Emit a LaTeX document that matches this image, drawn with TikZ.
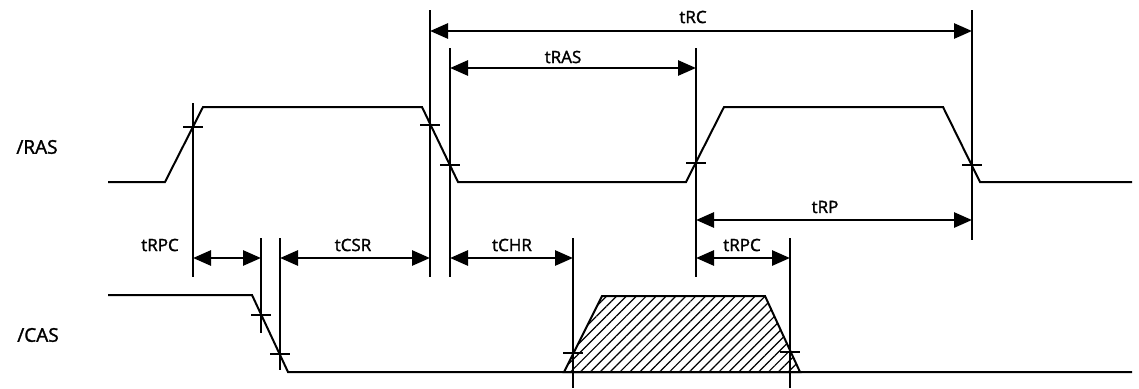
\documentclass[tikz,border=0pt]{standalone}
\usepackage{fontspec}
\setmainfont{Open Sans}
\newfontfamily\labfont{Open Sans}[FakeBold=1.6]
\usetikzlibrary{arrows.meta,patterns.meta}
\begin{document}
\begin{tikzpicture}[x=1pt,y=-1pt,
  sig/.style={line width=2pt, line join=miter},
  vline/.style={line width=1.4pt},
  tickmark/.style={line width=1.4pt},
  dimarrow/.style={line width=2.8pt, {Triangle[length=18pt,width=15pt]}-{Triangle[length=18pt,width=15pt]}},
  lab/.style={font=\labfont\fontsize{17}{19}\selectfont, inner sep=0pt},
  siglab/.style={font=\labfont\fontsize{19}{21}\selectfont, inner sep=0pt}]
\useasboundingbox (0,0) rectangle (1139,388);
\fill[white] (0,0) rectangle (1139,388);

% vertical reference lines
\coordinate (v1t) at (193,103); \coordinate (v1b) at (193,277);
\coordinate (v2t) at (430,10);  \coordinate (v2b) at (430,277);
\coordinate (v3t) at (450,48);  \coordinate (v3b) at (450,277);
\coordinate (v4t) at (696,48);  \coordinate (v4b) at (696,277);
\coordinate (v5t) at (972,10);  \coordinate (v5b) at (972,240);
\coordinate (v6t) at (261,238); \coordinate (v6b) at (261,333);
\coordinate (v7t) at (280,238); \coordinate (v7b) at (280,370);
\coordinate (v8t) at (573,238); \coordinate (v8b) at (573,388);
\coordinate (v9t) at (790,238); \coordinate (v9b) at (790,388);
\foreach \v in {1,...,9} \draw[vline] (v\v t) -- (v\v b);

% /RAS waveform
\node[siglab] (ras) at (37,147) {/RAS};
\draw[sig] (108,182) -- (165,182) -- (203,107) -- (422,107) -- (458,182)
  -- (686,182) -- (724,107) -- (943,107) -- (980,182) -- (1132,182);

% /CAS waveform
\node[siglab] (cas) at (38,335) {/CAS};
\draw[sig] (108,295) -- (252,295) -- (288,372) -- (1132,372);
\draw[sig, pattern={Lines[angle=45,distance=7pt,line width=1.2pt]}]
  (564,372) -- (602,296) -- (765,296) -- (800,372) -- cycle;

% crossing ticks
\foreach \p in {(193,127),(430,125),(450,165),(696,163),(972,165),
                (261,315),(280,354),(573,353),(790,352)}
  \draw[tickmark] \p ++(-10,0) -- ++(20,0);

% dimension arrows
\coordinate (rcL) at (v2t |- 0,31);  \coordinate (rcR) at (v5t |- 0,31);
\coordinate (rasL) at (v3t |- 0,68); \coordinate (rasR) at (v4t |- 0,68);
\coordinate (rpL) at (v4t |- 0,220); \coordinate (rpR) at (v5t |- 0,220);
\coordinate (p1L) at (v1t |- 0,258); \coordinate (p1R) at (v6t |- 0,258);
\coordinate (csL) at (v7t |- 0,258); \coordinate (csR) at (v2t |- 0,258);
\coordinate (chL) at (v3t |- 0,258); \coordinate (chR) at (v8t |- 0,258);
\coordinate (p2L) at (v4t |- 0,258); \coordinate (p2R) at (v9t |- 0,258);
\draw[dimarrow] (rcL) -- (rcR);
\draw[dimarrow] (rasL) -- (rasR);
\draw[dimarrow] (rpL) -- (rpR);
\draw[dimarrow] (p1L) -- (p1R);
\draw[dimarrow] (csL) -- (csR);
\draw[dimarrow] (chL) -- (chR);
\draw[dimarrow] (p2L) -- (p2R);

% labels
\node[lab] (trc) at (693,17) {tRC};
\node[lab] (tras) at (563,57) {tRAS};
\node[lab] (trp) at (825,207) {tRP};
\node[lab] (trpc1) at (160,245) {tRPC};
\node[lab] (tcsr) at (353,245) {tCSR};
\node[lab] (tchr) at (512,245) {tCHR};
\node[lab] (trpc2) at (742,245) {tRPC};
\end{tikzpicture}
\end{document}
